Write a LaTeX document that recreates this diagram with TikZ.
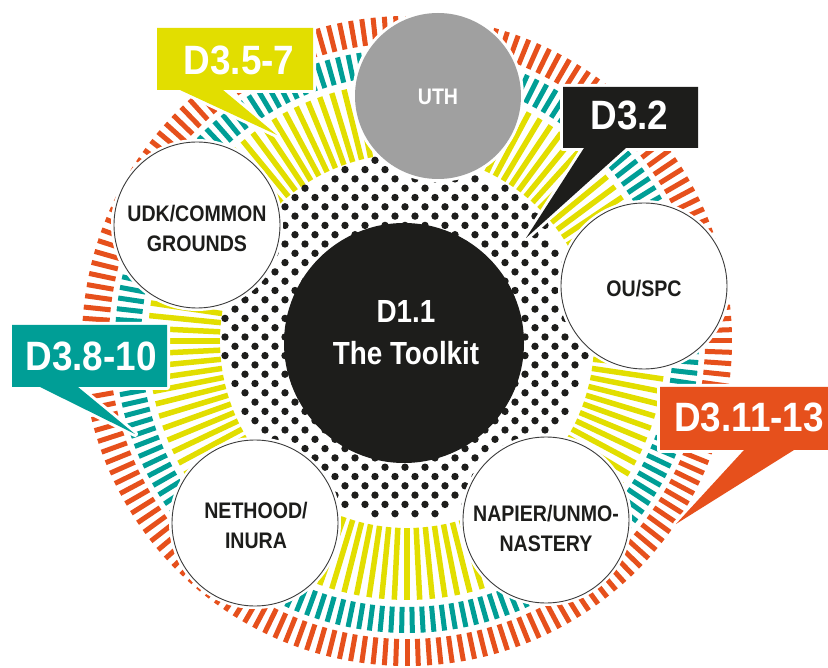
\documentclass[tikz,border=0pt]{standalone}
\usepackage{fontspec}
\setmainfont{Liberation Sans}[FakeStretch=0.87]
\newfontfamily\bigcond{Liberation Sans}[FakeStretch=0.9]
\definecolor{cyel}{RGB}{226,222,0}
\definecolor{cteal}{RGB}{0,158,150}
\definecolor{cred}{RGB}{230,80,28}
\definecolor{cblack}{RGB}{29,29,27}
\definecolor{cgrey}{RGB}{160,160,160}
\definecolor{cline}{RGB}{60,60,60}
\begin{document}
\begin{tikzpicture}[x=1pt,y=-1pt,
  member/.style={circle, minimum size=166, inner sep=0, fill=white, draw=cline, line width=0.9,
                 preaction={draw=white, line width=6}},
  mtext/.style={align=center, text=cblack, font=\fontsize{22.5}{30}\selectfont\bfseries},
  callout/.style={preaction={draw=white, line width=6, line join=round}},
  ctext/.style={text=white, inner sep=0, font=\bigcond\fontsize{41}{41}\selectfont\bfseries}]
\useasboundingbox (0,0) rectangle (828,668);

% striped rings
\begin{scope}[shift={(407,341)}]
  \foreach \a in {0,2,...,358} \draw[cred, line width=5] (\a:298) -- (\a:325);
  \foreach \k in {0,...,169} \draw[cteal, line width=5] ({\k*2.117647}:266) -- ({\k*2.117647}:292);
  \foreach \k in {0,...,127} \draw[cyel, line width=5.5] ({\k*2.8125}:187) -- ({\k*2.8125}:259);
\end{scope}

% dotted ring
\begin{scope}[shift={(405,337)}]
  \foreach \i in {-19,...,19}{
    \foreach \j in {-20,...,20}{
      \pgfmathtruncatemacro\pp{mod(abs(\i+\j),2)}
      \pgfmathsetmacro\dd{veclen(10*(\i),9.3*(\j))}
      \ifnum\pp=0\relax
        \ifdim\dd pt<181pt\relax
          \ifdim\dd pt>105pt\relax
            \fill[cblack] ({10*(\i)},{9.3*(\j)}) circle[radius=3.7];
          \fi
        \fi
      \fi
    }
  }
\end{scope}

% core
\node[circle, fill=cblack, minimum size=240, inner sep=0] (core) at (404,343) {};
\node[align=center, text=white, font=\fontsize{32}{42}\selectfont\bfseries] (coretext) at (406,332.7) {D1.1\\The Toolkit};

% partner circles
\node[member, fill=cgrey, draw=none] (uth) at (438,96) {};
\node[member] (udk) at (197,225) {};
\node[member] (ou) at (644,286) {};
\node[member] (neth) at (255,523) {};
\node[member] (nap) at (546,520) {};

\node[mtext, text=white] (uthtext) at (438,96.5) {UTH};
\node[mtext] (udktext) at (197,228.5) {UDK/COMMON\\GROUNDS};
\node[mtext] (outext) at (644,288.5) {OU/SPC};
\node[mtext] (nethtext) at (256,525) {NETHOOD/\\INURA};
\node[mtext] (naptext) at (546,528) {NAPIER/UNMO-\\NASTERY};

% callouts
\path[callout, fill=cyel] (157,28) -- (313,28) -- (313,90) -- (223,90) -- (277,135) -- (180,90) -- (157,90) -- cycle;
\node[ctext] (d357) at (239,60) {D3.5-7};

\path[callout, fill=cblack] (563,87) -- (698,87) -- (698,148) -- (626,148) -- (526,238) -- (584,148) -- (563,148) -- cycle;
\node[ctext] (d32) at (629.5,115) {D3.2};

\path[callout, fill=cteal] (12,325) -- (167,325) -- (167,387) -- (78,387) -- (135,434) -- (40,387) -- (12,387) -- cycle;
\node[ctext] (d3810) at (91,356) {D3.8-10};

\path[callout, fill=cred] (660,387) -- (831,387) -- (831,450) -- (794,450) -- (676,524) -- (744,450) -- (660,450) -- cycle;
\node[ctext] (d31113) at (749,417) {D3.11-13};
\end{tikzpicture}
\end{document}
